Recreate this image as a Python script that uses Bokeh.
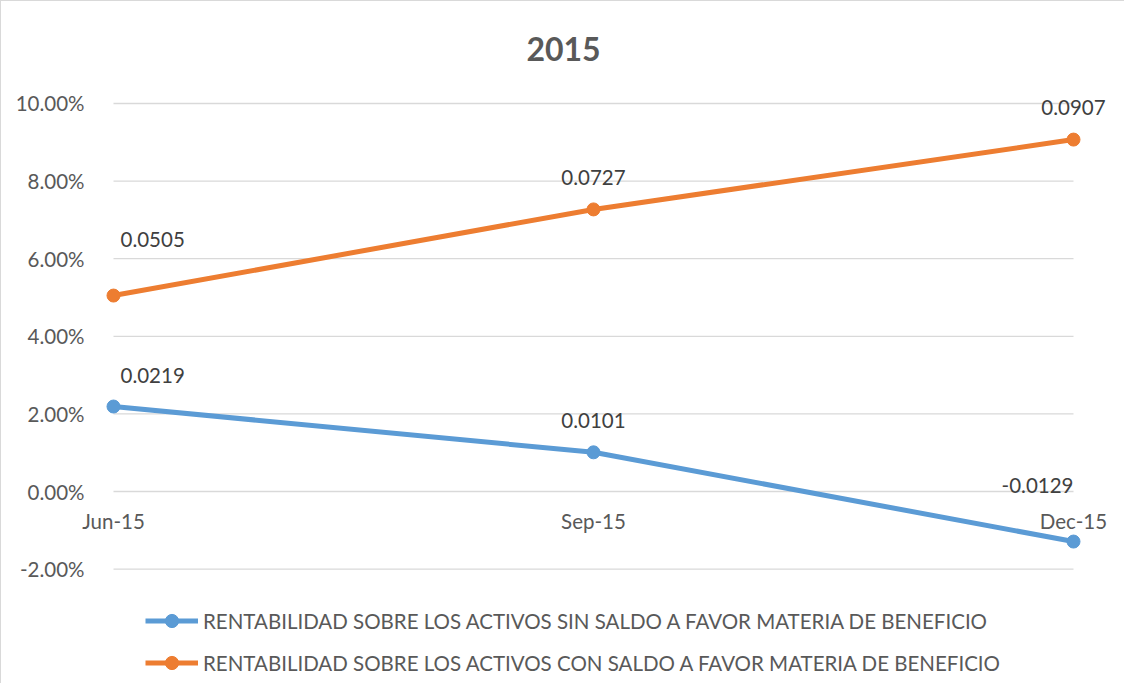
from bokeh.plotting import figure
from bokeh.models import (ColumnDataSource, Range1d, FixedTicker, NumeralTickFormatter,
                          Legend, LegendItem, LinearAxis)
from bokeh.core.properties import value
from bokeh.embed import file_html
from bokeh.resources import INLINE

# ---- data ----
categories = ["Jun-15", "Sep-15", "Dec-15"]
sin_saldo = [0.0219, 0.0101, -0.0129]
con_saldo = [0.0505, 0.0727, 0.0907]
series_names = [
    "RENTABILIDAD SOBRE LOS ACTIVOS SIN SALDO A FAVOR MATERIA DE BENEFICIO",
    "RENTABILIDAD SOBRE LOS ACTIVOS CON SALDO A FAVOR MATERIA DE BENEFICIO",
]
y_ticks = [-0.02, 0.0, 0.02, 0.04, 0.06, 0.08, 0.10]
title_text = "2015"

FONT = "Lato"
FS = "20.5px"
BLUE = "#5B9BD5"
ORANGE = "#ED7D31"
GRID = "#D9D9D9"
TXT = "#595959"
LBL = "#404040"

xs = list(range(len(categories)))

p = figure(width=1124, height=683, output_backend="svg", toolbar_location=None,
           x_range=Range1d(-0.23333, 2.10833), y_range=Range1d(-0.04974, 0.10773),
           min_border_left=0, min_border_right=0, min_border_top=72, min_border_bottom=0,
           x_axis_location=None, y_axis_location=None)
p.outline_line_color = None
p.xgrid.visible = False
p.ygrid.visible = False
p.title.text = title_text
p.title.align = "center"
p.title.text_font = FONT
p.title.text_font_size = "32px"
p.title.text_font_style = "bold"
p.title.text_color = TXT
p.title.standoff = 25
p.styles = {"border-top": "1px solid #D9D9D9", "border-left": "1px solid #D9D9D9"}

# gridlines spanning the category extent
p.segment(x0=[xs[0]] * len(y_ticks), x1=[xs[-1]] * len(y_ticks), y0=y_ticks, y1=y_ticks,
          line_color=GRID, line_width=1.3)

# y axis (drawn at the first category)
yax = LinearAxis(ticker=FixedTicker(ticks=y_ticks),
                 formatter=NumeralTickFormatter(format="0.00%"))
yax.fixed_location = xs[0]
yax.axis_line_color = None
yax.major_tick_line_color = None
yax.minor_tick_line_color = None
yax.major_label_text_font = FONT
yax.major_label_text_font_size = FS
yax.major_label_text_color = TXT
yax.major_label_standoff = 23
p.add_layout(yax, "left")

# x axis crossing at 0
xax = LinearAxis(ticker=FixedTicker(ticks=xs),
                 major_label_overrides={i: c for i, c in enumerate(categories)})
xax.fixed_location = 0
xax.axis_line_color = None
xax.major_tick_line_color = None
xax.minor_tick_line_color = None
xax.major_label_text_font = FONT
xax.major_label_text_font_size = FS
xax.major_label_text_color = TXT
xax.major_label_standoff = 11
p.add_layout(xax, "below")

items = []
for vals, color, name in [(sin_saldo, BLUE, series_names[0]), (con_saldo, ORANGE, series_names[1])]:
    src = ColumnDataSource(dict(x=xs, y=vals))
    r1 = p.line("x", "y", source=src, line_color=color, line_width=5)
    r2 = p.scatter("x", "y", source=src, size=13, fill_color=color, line_color=color)
    items.append(LegendItem(label=name, renderers=[r1, r2]))

# data labels
def add_labels(vals, offsets):
    for i, v in enumerate(vals):
        dx, dy, al = offsets[i]
        p.text(x=[xs[i]], y=[v], text=[f"{v:.4f}"], text_font=value(FONT),
               text_font_size=FS, text_color=LBL, text_align=al,
               text_baseline="middle", x_offset=dx, y_offset=dy)

add_labels(sin_saldo, [(7, -31, "left"), (0, -32, "center"), (0, -56, "right")])
add_labels(con_saldo, [(7, -56, "left"), (0, -32, "center"), (0, -32, "center")])

legend = Legend(items=items, location=(144, 5), orientation="vertical",
                background_fill_alpha=0, border_line_color=None,
                padding=0, margin=0, spacing=9,
                glyph_width=53, glyph_height=33, label_height=33, label_standoff=5,
                label_text_font=FONT, label_text_font_size=FS, label_text_color=TXT)
p.add_layout(legend, "center")

open("out.html", "w").write(file_html(p, INLINE))
